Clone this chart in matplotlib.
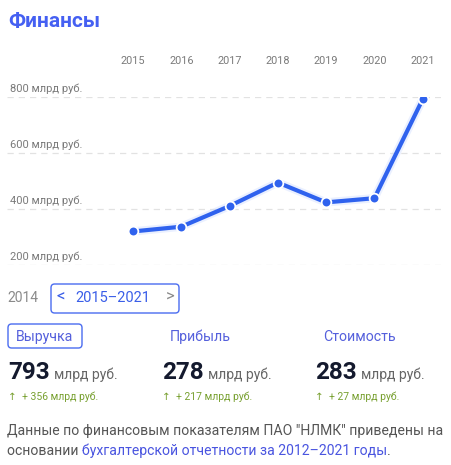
import matplotlib
matplotlib.use('Agg')
import matplotlib.pyplot as plt
from matplotlib.patches import FancyBboxPatch
import matplotlib.transforms as mtransforms

plt.rcParams['font.family'] = ['Roboto', 'DejaVu Sans']

# data
years = [2015, 2016, 2017, 2018, 2019, 2020, 2021]
revenue = [320, 337, 411, 495, 424, 439, 793]
y_ticks = [200, 400, 600, 800]
metrics = ['Выручка', 'Прибыль', 'Стоимость']
metric_values = [793, 278, 283]
metric_deltas = [356, 217, 27]

W, H = 451, 465
BLUE = '#2f62ee'
TITLE_BLUE = '#4560f2'
GRAY = '#7a7a7a'

fig = plt.figure(figsize=(W / 100, H / 100), dpi=100)


def fx(px):
    return px / W


def fy(py):
    return 1 - py / H


# chart area: x from 7 to 441 px, y 200 -> 265 px, 800 -> 97.3 px
ax = fig.add_axes([fx(7), fy(265), fx(441) - fx(7), fy(97.3) - fy(265)])
ax.set_xlim(2012.39, 2021.38)
ax.set_ylim(200, 800)
ax.axis('off')

for t in y_ticks:
    ax.axhline(t, color='#e2e2e2', lw=0.9, ls=(0, (5, 4)), zorder=0)
    ax.annotate(f'{t} млрд руб.', (0, t), xycoords=('axes fraction', 'data'),
                xytext=(3, 3), textcoords='offset pixels', fontsize=8,
                color=GRAY, va='bottom', ha='left')

trans = mtransforms.blended_transform_factory(ax.transData, fig.transFigure)
for yr in years:
    ax.text(yr, fy(61), str(yr), transform=trans, fontsize=7.8, color=GRAY,
            ha='center', va='center')

# glow and line
ax.plot(years, revenue, color='#c4d4ff', lw=6, alpha=0.35, solid_capstyle='round',
        solid_joinstyle='round', zorder=1)
ax.plot(years, revenue, color=BLUE, lw=3, solid_joinstyle='round', zorder=2)
ax.plot(years, revenue, 'o', color=BLUE, ms=7, mec='white', mew=1.3, zorder=3)

# title
fig.text(fx(8), fy(21), 'Финансы', fontsize=15, fontweight='bold',
         color=TITLE_BLUE, va='center', ha='left')

# period selector
fig.text(fx(7), fy(298), '2014', fontsize=10, color='#8a8a8a', va='center')
fig.patches.append(FancyBboxPatch((fx(51), fy(313)), fx(128), 29 / H,
                                  boxstyle='round,pad=0,rounding_size=0.008',
                                  transform=fig.transFigure, fill=False,
                                  ec='#4a6cf0', lw=1))
fig.text(fx(61), fy(297.5), '<', fontsize=12, color='#3a5ee8',
         va='center', ha='center')
fig.text(fx(113), fy(298), '2015–2021', fontsize=10.5, color='#3a5ee8',
         va='center', ha='center')
fig.text(fx(170), fy(297.5), '>', fontsize=12, color='#8a8a8a',
         va='center', ha='center')

# metric tabs
fig.patches.append(FancyBboxPatch((fx(8), fy(348)), fx(74), 24 / H,
                                  boxstyle='round,pad=0,rounding_size=0.008',
                                  transform=fig.transFigure, fill=False,
                                  ec='#4a6cf0', lw=1))
tab_x = [16, 170, 323]
fig.canvas.draw()
renderer = fig.canvas.get_renderer()
for i, name in enumerate(metrics):
    fig.text(fx(tab_x[i]), fy(337), name, fontsize=10.2, color='#5560dc',
             va='center', ha='left')
    x0 = tab_x[i] - 8
    big = fig.text(fx(x0), fy(379), str(metric_values[i]), fontsize=17.5,
                   fontweight='bold', color='#141a2e', va='baseline', ha='left')
    bb = big.get_window_extent(renderer)
    fig.text(bb.x1 / W + fx(4), fy(379), 'млрд руб.', fontsize=10,
             color='#666666', va='baseline', ha='left')
    fig.text(fx(x0), fy(397), f'↑  + {metric_deltas[i]} млрд руб.', fontsize=7.5,
             color='#78a030', va='center', ha='left')

# footnote
FS = 10.1
fig.text(fx(7), fy(431), 'Данные по финансовым показателям ПАО "НЛМК" приведены на',
         fontsize=FS, color='#555555', va='center', ha='left')
t1 = fig.text(fx(7), fy(451), 'основании ', fontsize=FS, color='#555555',
              va='center', ha='left')
bb = t1.get_window_extent(renderer)
t2 = fig.text(bb.x1 / W, fy(451), 'бухгалтерской отчетности за 2012–2021 годы',
              fontsize=FS, color='#4a55e0', va='center', ha='left')
bb = t2.get_window_extent(renderer)
fig.text(bb.x1 / W, fy(451), '.', fontsize=FS, color='#555555', va='center', ha='left')

fig.savefig('out.png', dpi=100)
